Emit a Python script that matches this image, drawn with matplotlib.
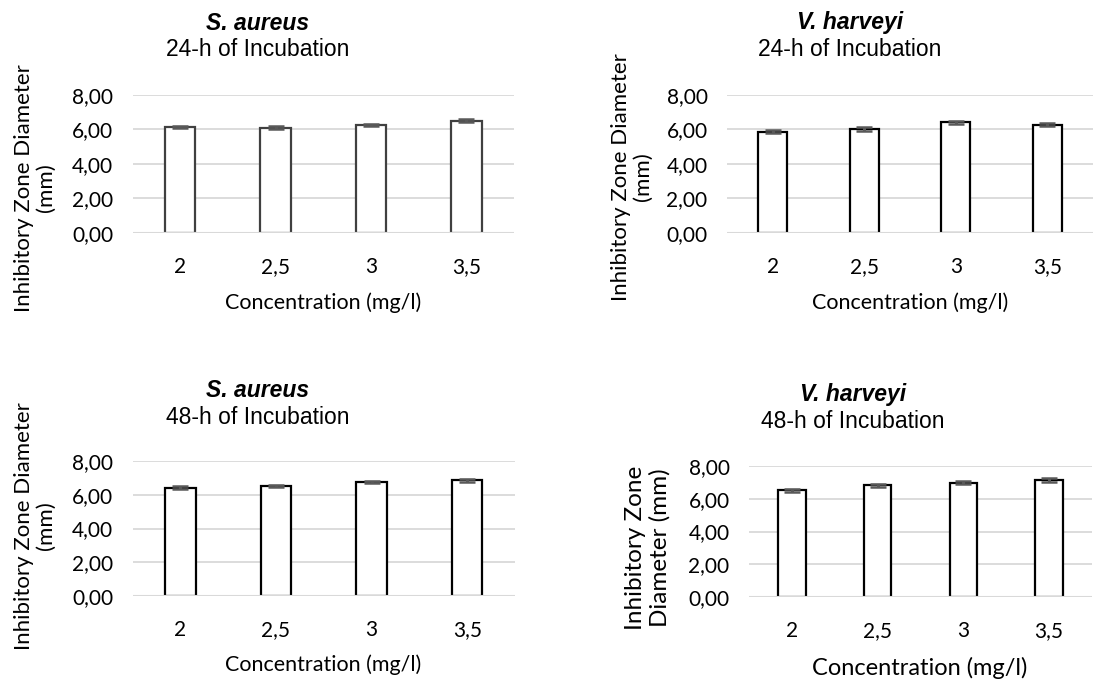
import numpy as np
import matplotlib
matplotlib.use('Agg')
import matplotlib.pyplot as plt

# data
conc = ['2', '2,5', '3', '3,5']
sa_24 = [6.13, 6.11, 6.25, 6.51]
sa_24_err = [0.07, 0.07, 0.07, 0.07]
vh_24 = [5.88, 6.03, 6.42, 6.28]
vh_24_err = [0.09, 0.09, 0.09, 0.08]
sa_48 = [6.42, 6.53, 6.75, 6.85]
sa_48_err = [0.08, 0.07, 0.08, 0.08]
vh_48 = [6.52, 6.82, 6.98, 7.13]
vh_48_err = [0.10, 0.11, 0.10, 0.11]
yticks = [0, 2, 4, 6, 8]
ytick_labels = ['0,00', '2,00', '4,00', '6,00', '8,00']

W, H = 1099, 682
fig = plt.figure(figsize=(W / 100, H / 100), dpi=100)
fig.patch.set_facecolor('white')

body = 'Lato'
head = 'Liberation Sans'


def px(x, y):
    return x / W, 1 - y / H


def panel(box, vals, errs, species, sub, title_xy, xlab_xy, ylab, ylab_xy, ylab_size, xlab_size, edge):
    l, t, r, b = box
    ax = fig.add_axes([l / W, 1 - b / H, (r - l) / W, (b - t) / H])
    x = np.arange(len(conc))
    ax.bar(x, vals, width=0.32, color='white', edgecolor=edge, linewidth=1.6, zorder=2)
    ax.errorbar(x, vals, yerr=errs, fmt='none', ecolor='#595959', elinewidth=2.2,
                capsize=5.5, capthick=1.8, zorder=3)
    ax.set_xlim(-0.5, len(conc) - 0.5)
    ax.set_ylim(0, 8)
    ax.set_yticks(yticks)
    ax.set_yticklabels(ytick_labels, family=body, fontsize=15)
    ax.set_xticks(x)
    ax.set_xticklabels(conc, family=body, fontsize=15)
    ax.tick_params(axis='both', length=0)
    ax.tick_params(axis='y', pad=14)
    ax.tick_params(axis='x', pad=17)
    for s in ax.spines.values():
        s.set_visible(False)
    for v in yticks[1:]:
        ax.axhline(v, color='#d9d9d9', linewidth=1.3, zorder=1)
    ax.axhline(0, color='#d9d9d9', linewidth=1.5, zorder=4)
    tx, ty = title_xy
    fig.text(*px(tx, ty - 13), species, family=head, fontsize=16.5, fontweight='bold',
             fontstyle='italic', ha='center', va='center')
    fig.text(*px(tx, ty + 14), sub, family=head, fontsize=16.5, ha='center', va='center')
    fig.text(*px(*xlab_xy), 'Concentration (mg/l)', family=body, fontsize=xlab_size,
             ha='center', va='center')
    fig.text(*px(*ylab_xy), ylab, family=body, fontsize=ylab_size, rotation=90,
             ha='center', va='center', multialignment='center', linespacing=1.15)
    return ax


panel((132.5, 95, 514, 233), sa_24, sa_24_err, 'S. aureus', '24-h of Incubation',
      (258, 36), (323, 303), 'Inhibitory Zone Diameter\n(mm)', (35, 188), 16, 15.5, '#404040')
panel((727, 95, 1093, 233), vh_24, vh_24_err, 'V. harveyi', '24-h of Incubation',
      (850, 36), (910, 303), 'Inhibitory Zone Diameter\n(mm)', (632, 177), 16, 15.5, 'black')
panel((132.5, 461, 515, 596), sa_48, sa_48_err, 'S. aureus', '48-h of Incubation',
      (258, 403), (323, 665), 'Inhibitory Zone Diameter\n(mm)', (35, 526), 16, 15.5, 'black')
panel((749, 466, 1092, 597), vh_48, vh_48_err, 'V. harveyi', '48-h of Incubation',
      (853, 407), (920, 668), 'Inhibitory Zone\nDiameter (mm)', (648, 548), 17.5, 17, 'black')

fig.savefig('out.png', dpi=100, facecolor='white')
